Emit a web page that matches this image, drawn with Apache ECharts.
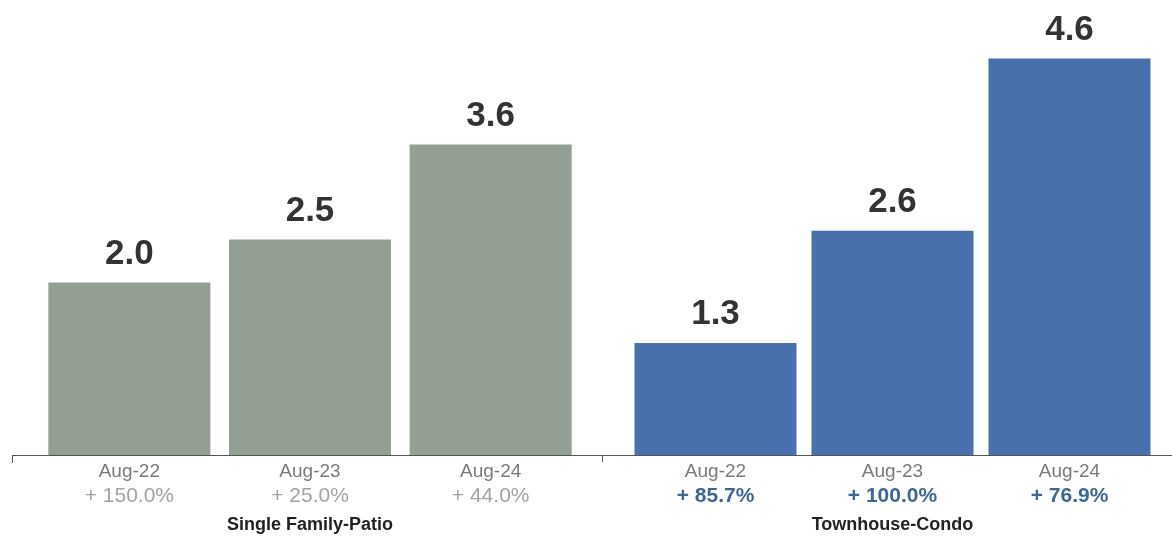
<!DOCTYPE html>
<html>
<head>
<meta charset="utf-8">
<script src="https://cdn.jsdelivr.net/npm/echarts@6/dist/echarts.min.js"></script>
<style>
  html, body { margin: 0; padding: 0; background: #ffffff; }
  #chart { width: 1172px; height: 543px; }
</style>
</head>
<body>
<div id="chart"></div>
<script>
// Months of inventory, August of each year
const months = ['Aug-22', 'Aug-23', 'Aug-24'];

const singleFamilyValues = [2.0, 2.5, 3.6];
const singleFamilyChange = ['+ 150.0%', '+ 25.0%', '+ 44.0%'];

const townhouseValues = [1.3, 2.6, 4.6];
const townhouseChange = ['+ 85.7%', '+ 100.0%', '+ 76.9%'];

const groupNames = ['Single Family-Patio', 'Townhouse-Condo'];

const FONT = '"Liberation Sans", Arial, Helvetica, sans-serif';
const GREEN = '#929f92';
const BLUE = '#4870ac';

function categoryAxis(gridIndex, changes, name, pctStyle) {
  return {
    type: 'category',
    gridIndex: gridIndex,
    data: months,
    axisLine: { show: false },
    axisTick: { show: false },
    axisLabel: {
      margin: 4,
      fontFamily: FONT,
      formatter: function (value, idx) {
        return '{d|' + value + '}\n{p|' + changes[idx] + '}';
      },
      rich: {
        d: { fontSize: 19, color: '#7a7a7a', fontFamily: FONT, lineHeight: 25 },
        p: Object.assign({ fontSize: 21, fontFamily: FONT, lineHeight: 25 }, pctStyle)
      }
    },
    name: name,
    nameLocation: 'middle',
    nameGap: 61,
    nameTextStyle: { fontSize: 18, fontWeight: 'bold', color: '#222', fontFamily: FONT }
  };
}

function valueAxis(gridIndex) {
  return {
    type: 'value',
    gridIndex: gridIndex,
    min: 0,
    max: 4.97,
    show: false
  };
}

function barSeries(idx, values, color) {
  return {
    type: 'bar',
    xAxisIndex: idx,
    yAxisIndex: idx,
    data: values,
    barWidth: 162,
    itemStyle: { color: color },
    label: {
      show: true,
      position: 'top',
      distance: 11,
      formatter: function (p) { return p.value.toFixed(1); },
      fontFamily: FONT,
      fontSize: 35,
      fontWeight: 'bold',
      color: '#333'
    }
  };
}

const chart = echarts.init(document.getElementById('chart'), null, { renderer: 'canvas' });

chart.setOption({
  backgroundColor: '#ffffff',
  animation: false,
  grid: [
    { left: 39, width: 542, top: 26.5, bottom: 88 },
    { left: 627, width: 531, top: 26.5, bottom: 88 }
  ],
  xAxis: [
    categoryAxis(0, singleFamilyChange, groupNames[0], { color: '#a3a3a3' }),
    categoryAxis(1, townhouseChange, groupNames[1], { color: '#3f6794', fontWeight: 'bold' })
  ],
  yAxis: [valueAxis(0), valueAxis(1)],
  series: [
    barSeries(0, singleFamilyValues, GREEN),
    barSeries(1, townhouseValues, BLUE)
  ],
  graphic: [
    {
      type: 'group',
      silent: true,
      children: [
        { type: 'line', shape: { x1: 12, y1: 455.5, x2: 1172, y2: 455.5 }, style: { stroke: '#555', lineWidth: 1 } },
        { type: 'line', shape: { x1: 12.5, y1: 455.5, x2: 12.5, y2: 463 }, style: { stroke: '#555', lineWidth: 1 } },
        { type: 'line', shape: { x1: 602.5, y1: 455.5, x2: 602.5, y2: 462 }, style: { stroke: '#555', lineWidth: 1 } }
      ]
    }
  ]
});
</script>
</body>
</html>
